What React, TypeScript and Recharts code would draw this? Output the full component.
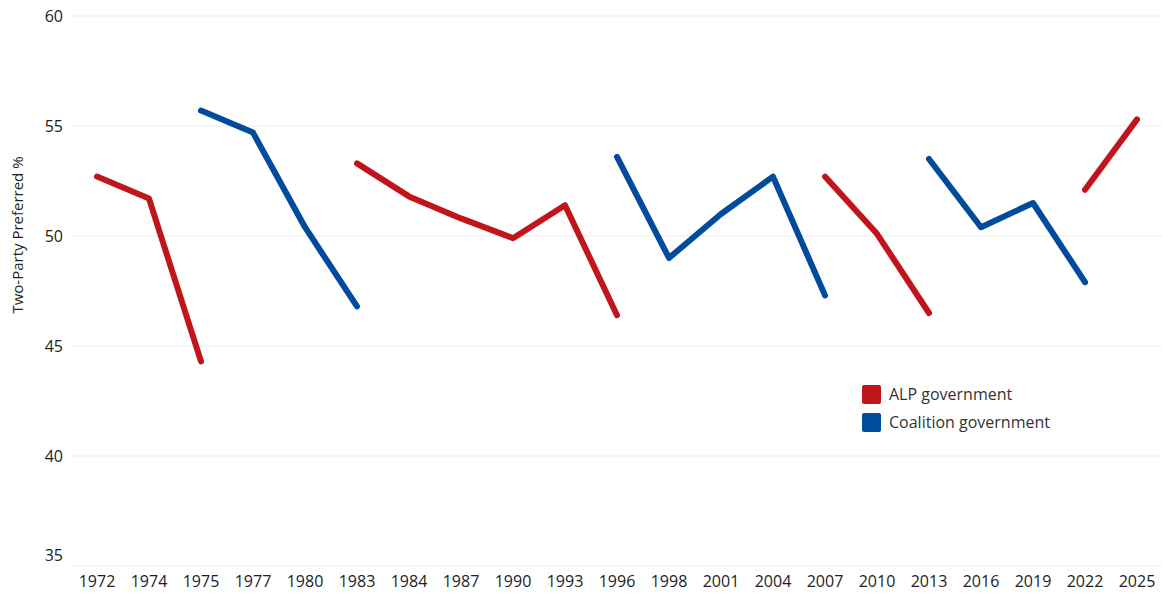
import React from "react";
import { LineChart, Line, XAxis, YAxis, CartesianGrid } from "recharts";

const years = [
  "1972", "1974", "1975", "1977", "1980", "1983", "1984", "1987", "1990", "1993", "1996",
  "1998", "2001", "2004", "2007", "2010", "2013", "2016", "2019", "2022", "2025",
];

const alpGov = [
  52.7, 51.7, 44.3, null, null, 53.3, 51.8, 50.8, 49.9, 51.4, 46.4,
  null, null, null, 52.7, 50.1, 46.5, null, null, 52.1, 55.3,
];

const coalitionGov = [
  null, null, 55.7, 54.7, 50.4, 46.8, null, null, null, null, 53.6,
  49.0, 51.0, 52.7, 47.3, null, 53.5, 50.4, 51.5, 47.9, null,
];

const yTicks = [35, 40, 45, 50, 55, 60];

const ALP_RED = "#C0161B";
const COALITION_BLUE = "#004B9B";
const FONT = "'Open Sans', 'Liberation Sans', Arial, sans-serif";

const data = years.map((year, i) => ({
  year,
  alp: alpGov[i],
  coalition: coalitionGov[i],
}));

const legendItems = [
  { label: "ALP government", color: ALP_RED },
  { label: "Coalition government", color: COALITION_BLUE },
];

const YTick = (props: any) => {
  const { x, y, payload } = props;
  // bottom label sits a little above the axis, like the original
  const shift = payload.value === 35 ? -11 : 0;
  return (
    <text
      x={x}
      y={y + shift}
      textAnchor="end"
      dominantBaseline="central"
      fontSize={16}
      fontFamily={FONT}
      fill="#222"
    >
      {payload.value}
    </text>
  );
};

const LegendBox = () => (
  <div
    style={{
      position: "absolute",
      left: 862,
      top: 380,
      fontFamily: FONT,
      fontSize: 16,
      color: "#333",
    }}
  >
    {legendItems.map((item) => (
      <div
        key={item.label}
        style={{ display: "flex", alignItems: "center", height: 28 }}
      >
        <span
          style={{
            width: 19,
            height: 19,
            background: item.color,
            borderRadius: 2,
            marginRight: 8,
            display: "inline-block",
          }}
        />
        {item.label}
      </div>
    ))}
  </div>
);

export default function App() {
  return (
    <div
      style={{
        position: "absolute",
        left: 0,
        top: 0,
        width: 1167,
        height: 594,
        background: "#fff",
      }}
    >
      <LineChart
        width={1167}
        height={594}
        data={data}
        margin={{ top: 16, right: 4, bottom: 0, left: 0 }}
      >
        <CartesianGrid vertical={false} stroke="#ededed" strokeWidth={1} />
        <XAxis
          dataKey="year"
          height={28}
          interval={0}
          padding={{ left: 26, right: 26 }}
          axisLine={false}
          tickLine={false}
          tickMargin={4}
          tick={{ fontSize: 16, fontFamily: FONT, fill: "#222" }}
        />
        <YAxis
          width={71}
          domain={[35, 60]}
          ticks={yTicks}
          axisLine={false}
          tickLine={false}
          tick={<YTick />}
          label={{
            content: () => (
              <text
                x={17}
                y={235}
                transform="rotate(-90 17 235)"
                textAnchor="middle"
                dominantBaseline="central"
                fontSize={15}
                fontFamily={FONT}
                fill="#222"
              >
                Two-Party Preferred %
              </text>
            ),
          }}
        />
        <Line
          dataKey="alp"
          name="ALP government"
          stroke={ALP_RED}
          strokeWidth={6}
          strokeLinecap="round"
          strokeLinejoin="round"
          dot={false}
          activeDot={false}
          connectNulls={false}
          isAnimationActive={false}
        />
        <Line
          dataKey="coalition"
          name="Coalition government"
          stroke={COALITION_BLUE}
          strokeWidth={6}
          strokeLinecap="round"
          strokeLinejoin="round"
          dot={false}
          activeDot={false}
          connectNulls={false}
          isAnimationActive={false}
        />
      </LineChart>
      <LegendBox />
    </div>
  );
}
